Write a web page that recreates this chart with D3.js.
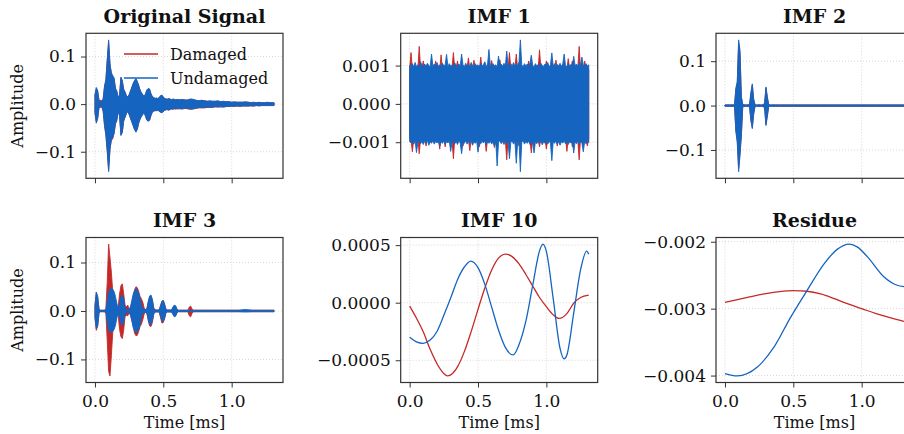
<!DOCTYPE html>
<html>
<head>
<meta charset="utf-8">
<script src="https://cdn.jsdelivr.net/npm/d3@7"></script>
<style>
  body { margin: 0; background: #fff; }
  svg { display: block; }
</style>
</head>
<body>
<svg id="fig" width="904" height="434"></svg>
<script>
const DAMAGED_COLOR = "#c62828";
const UNDAMAGED_COLOR = "#1565c0";
const FONT = "'DejaVu Serif', serif";

const seriesNames = ["Damaged", "Undamaged"];
const timeTicks = [0.0, 0.5, 1.0];
const timeTickLabels = ["0.0", "0.5", "1.0"];

// ---- Original signal, envelope of the dense trace (x 1e-3) ----
const origT = [...d3.range(0, 0.605, 0.01), ...d3.range(0.62, 1.305, 0.02), 1.31];
const origUndHi = [20,35,28,6,4,5,12,38,52,95, 135,85,64,60,55,32,28,14,20,57,
  50,30,26,18,15,20,28,36,44,50, 54,48,38,30,24,20,16,22,30,33,
  32,22,16,14,12,13,12,14,18,19, 15,12,10,11,12,10,9,11,10,9, 10,
  9,10,8,9,11,10,8,7,8,7, 6,7,6,6,7,5,6,5,5,4, 5,4,4,4,5,4,3,4,3,4, 3,3,4,3,3,3];
const origUndLo = [-18,-40,-30,-6,-5,-5,-15,-45,-66,-100, -142,-95,-74,-70,-62,-40,-35,-15,-25,-66,
  -60,-35,-28,-20,-16,-22,-30,-38,-46,-54, -59,-52,-40,-32,-26,-22,-18,-26,-34,-36,
  -33,-24,-17,-15,-13,-14,-13,-15,-17,-18, -16,-13,-11,-12,-12,-11,-10,-10,-9,-10, -9,
  -9,-10,-8,-9,-10,-10,-8,-7,-7,-7, -6,-7,-6,-5,-6,-5,-6,-5,-5,-4, -4,-4,-4,-4,-4,-4,-3,-4,-3,-3, -3,-3,-3,-3,-3,-3];
const origDamHi = [18,33,26,8,8,7,10,36,50,92, 130,82,66,58,52,34,26,12,18,55,
  48,32,24,17,14,19,27,35,43,48, 52,46,40,29,23,19,15,21,29,32,
  30,21,15,13,12,12,11,13,17,18, 14,12,11,10,11,11,9,10,10,9, 9,
  9,9,9,8,10,9,8,7,8,7, 6,6,6,6,6,5,5,5,5,4, 4,4,4,4,4,4,3,3,3,3, 3,3,3,3,3,3];
const origDamLo = [-17,-38,-29,-7,-7,-6,-14,-44,-64,-98, -138,-93,-76,-73,-60,-42,-33,-14,-24,-64,
  -58,-36,-27,-19,-15,-21,-29,-37,-45,-53, -57,-53,-39,-31,-25,-21,-17,-25,-33,-35,
  -34,-23,-16,-14,-14,-13,-13,-14,-17,-17, -15,-13,-12,-11,-13,-11,-10,-11,-10,-10, -10,
  -10,-10,-9,-10,-11,-10,-9,-8,-8,-8, -7,-7,-7,-6,-6,-6,-6,-5,-5,-5, -5,-4,-5,-4,-4,-4,-4,-4,-3,-4, -3,-3,-3,-3,-3,-3];

// ---- IMF 1, envelope every 0.01 ms (x 1e-3) ----
const imf1T = d3.range(132).map((i) => i / 100);
const imf1UndHi = [1.00,0.98,1.05,0.96,1.08,0.97,1.02,0.95,1.10,1.00, 0.96,1.04,0.98,1.06,1.00,0.97,1.30,0.99,1.04,0.96,
  1.08,0.98,1.02,0.95,1.06,0.99,1.03,1.29,0.97,1.05, 0.98,1.02,0.96,1.07,1.00,0.97,1.04,0.99,1.30,1.02,
  0.97,1.06,0.98,1.03,0.96,1.08,1.00,0.97,1.05,0.99, 1.02,0.96,1.06,0.98,1.03,1.10,0.97,1.04,1.42,1.00,
  0.97,1.05,0.99,1.02,0.96,1.25,1.00,1.04,0.98,1.06, 0.99,1.38,1.01,0.97,1.05,0.99,1.08,0.98,1.03,1.00,
  1.10,1.67,1.02,0.97,1.05,0.99,1.04,0.96,1.07,1.27, 1.00,0.97,1.05,0.99,1.03,0.97,1.06,1.00,0.98,1.04,
  0.99,1.08,0.97,1.02,1.33,0.99,1.05,0.97,1.03,0.99, 1.06,0.98,1.04,1.30,1.00,0.97,1.05,0.99,1.03,0.97,
  1.24,1.00,1.04,0.98,1.06,0.99,1.22,1.01,0.97,1.05, 0.99,1.02];
const imf1UndLo = [-0.98,-1.02,-0.96,-1.05,-0.97,-1.27,-1.00,-0.96,-1.04,-0.98, -1.06,-0.97,-1.02,-0.95,-1.08,-0.99,-1.03,-0.96,-1.05,-0.98,
  -1.02,-0.97,-1.10,-0.99,-1.03,-0.96,-1.05,-0.98,-1.02,-0.97, -1.24,-1.00,-0.96,-1.04,-0.98,-1.06,-0.97,-1.02,-1.30,-0.99,
  -1.03,-0.96,-1.05,-0.98,-1.02,-0.97,-1.08,-0.99,-1.03,-0.96, -1.26,-0.98,-1.04,-0.97,-1.02,-0.96,-1.06,-0.99,-1.03,-0.97,
  -1.05,-0.98,-1.10,-0.99,-1.62,-1.00,-0.96,-1.04,-0.98,-1.06, -0.97,-1.02,-0.99,-1.43,-1.00,-0.97,-1.05,-0.98,-1.55,-1.01,
  -0.97,-1.77,-1.00,-0.96,-1.05,-0.98,-1.03,-0.97,-1.06,-0.99, -1.02,-1.28,-0.98,-1.04,-0.97,-1.02,-0.96,-1.07,-0.99,-1.03,
  -0.97,-1.05,-0.98,-1.02,-1.48,-0.99,-1.03,-0.96,-1.05,-0.98, -1.08,-0.99,-1.02,-0.97,-1.04,-0.98,-1.06,-0.99,-1.02,-0.97,
  -1.28,-0.99,-1.04,-0.97,-1.05,-0.98,-1.02,-1.25,-0.99,-1.04, -0.97,-1.01];
const imf1DamHi = [0.92,1.34,0.90,0.95,0.88,0.93,0.90,1.50,0.91,0.94, 1.12,0.89,0.93,0.90,0.95,0.88,0.92,0.94,0.89,1.12,
  0.91,0.95,0.88,1.28,0.90,0.93,0.89,0.92,0.95,0.90, 0.88,0.93,1.34,0.91,0.94,1.12,0.90,0.92,0.89,0.95,
  0.91,0.88,0.93,1.20,0.90,0.94,0.89,1.14,0.92,0.95, 0.90,0.88,1.22,0.91,0.94,0.89,0.92,0.95,0.90,0.93,
  1.13,0.91,0.94,0.89,0.92,0.95,1.15,0.90,0.93,0.88, 0.92,0.95,0.90,1.34,0.91,0.94,0.89,0.92,1.30,0.90,
  0.93,0.88,0.92,0.95,0.90,0.93,0.89,1.12,0.91,0.94, 0.90,0.92,0.88,0.95,0.91,1.41,0.90,0.93,0.89,0.92,
  1.12,0.90,0.94,0.88,0.92,0.95,0.90,1.14,0.91,0.93, 0.89,0.92,0.95,0.90,0.93,0.88,1.18,0.91,0.94,1.12,
  0.90,0.93,0.89,0.92,1.50,0.90,0.94,0.88,1.12,0.91, 0.93,0.90];
const imf1DamLo = [-0.90,-0.94,-1.25,-0.89,-0.92,-0.95,-0.90,-1.30,-0.91,-0.88, -0.93,-0.90,-1.10,-0.89,-0.92,-0.95,-0.90,-0.93,-0.88,-0.92,
  -0.94,-0.90,-1.18,-0.89,-0.93,-0.91,-1.12,-0.90,-0.94,-0.88, -0.92,-0.95,-1.43,-0.90,-0.93,-0.89,-0.92,-0.95,-0.90,-1.10,
  -0.91,-0.94,-0.88,-0.92,-1.22,-0.90,-0.93,-0.89,-0.95,-0.91, -0.88,-1.12,-0.92,-0.90,-0.94,-0.89,-1.24,-0.91,-0.93,-0.90,
  -0.88,-0.92,-1.14,-0.90,-0.93,-0.89,-0.95,-0.91,-0.88,-0.92, -0.94,-1.46,-0.90,-0.93,-0.89,-0.92,-0.95,-0.90,-0.91,-0.94,
  -1.10,-0.89,-0.92,-0.95,-0.90,-0.93,-0.88,-0.92,-0.94,-1.28, -0.90,-0.93,-0.89,-0.92,-0.95,-1.12,-0.90,-0.93,-0.88,-0.92,
  -1.18,-0.90,-0.94,-0.89,-0.92,-0.95,-0.90,-0.93,-1.10,-0.89, -0.92,-0.94,-0.90,-0.93,-0.88,-1.24,-0.91,-0.94,-0.89,-1.12,
  -0.92,-0.90,-0.93,-0.95,-1.46,-0.90,-0.93,-0.89,-0.92,-0.94, -1.10,-0.91];

// ---- IMF 2 (x 1e-3) ----
const imf2T = [...d3.range(0, 0.405, 0.01), ...d3.range(0.45, 1.305, 0.05), 1.31];
const imf2UndHi = [1.5,1.5,2,1.5,1.5,2,1.5,2,40,54, 148,125,20,3,2,1.5,1.5,2,3,30,
  49,15,2,1.5,1.5,2,1.5,1.5,2,6, 42,20,2,1.5,1.5,1.5,2,1.5,1.5,1.5, 1.5,
  1.5,1.5,1.5,1.5,1.5,1.5,1.5,1.5,1.5,1.5, 1.5,1.5,1.5,1.5,1.5,1.5,1.5,1.5,1.5];
const imf2UndLo = [-1.5,-1.5,-2,-1.5,-1.5,-2,-1.5,-2,-60,-83, -149,-113,-69,-3,-2,-1.5,-1.5,-2,-3,-35,
  -52,-20,-2,-1.5,-1.5,-2,-1.5,-1.5,-2,-6, -45,-25,-2,-1.5,-1.5,-1.5,-2,-1.5,-1.5,-1.5, -1.5,
  -1.5,-1.5,-1.5,-1.5,-1.5,-1.5,-1.5,-1.5,-1.5,-1.5, -1.5,-1.5,-1.5,-1.5,-1.5,-1.5,-1.5,-1.5,-1.5];
const imf2DamHi = [1.5,1.5,1.5,1.5,1.5,1.5,1.5,1.5,36,50, 140,118,18,2,1.5,1.5,1.5,1.5,2,27,
  46,13,1.5,1.5,1.5,1.5,1.5,1.5,1.5,5, 39,18,1.5,1.5,1.5,1.5,1.5,1.5,1.5,1.5, 1.5,
  1.5,1.5,1.5,1.5,1.5,1.5,1.5,1.5,1.5,1.5, 1.5,1.5,1.5,1.5,1.5,1.5,1.5,1.5,1.5];
const imf2DamLo = [-1.5,-1.5,-1.5,-1.5,-1.5,-1.5,-1.5,-1.5,-55,-78, -141,-106,-64,-2,-1.5,-1.5,-1.5,-1.5,-2,-32,
  -49,-18,-1.5,-1.5,-1.5,-1.5,-1.5,-1.5,-1.5,-5, -42,-22,-1.5,-1.5,-1.5,-1.5,-1.5,-1.5,-1.5,-1.5, -1.5,
  -1.5,-1.5,-1.5,-1.5,-1.5,-1.5,-1.5,-1.5,-1.5,-1.5, -1.5,-1.5,-1.5,-1.5,-1.5,-1.5,-1.5,-1.5,-1.5];

// ---- IMF 3 (x 1e-3) ----
const imf3T = [...d3.range(0, 0.755, 0.01), ...d3.range(0.8, 1.305, 0.05), 1.31];
const imf3UndHi = [10,39,30,3,1.5,1.5,1.5,1.5,3,20, 38,45,47,45,40,30,16,4,15,30,
  33,25,8,3,3,3,8,22,35,42, 46,44,36,26,12,5,3,3,5,20, 31,33,24,6,2,2,2,2,10,20,
  22,14,3,2,2,2,2,8,12,11, 4,1.5,1.5,1.5,1.5,1.5,1.5,1.5,1.5,1.5, 1.5,1.5,1.5,1.5,1.5,1.5,
  1.5,1.5,1.5,1.5,1.5,1.5,3,1.5,1.5,1.5,1.5,1.5];
const imf3UndLo = [-12,-37,-30,-3,-1.5,-1.5,-1.5,-1.5,-3,-22, -40,-43,-44,-42,-38,-30,-15,-4,-12,-27,
  -29,-22,-8,-3,-3,-3,-8,-20,-34,-41, -45,-43,-38,-28,-12,-5,-3,-3,-5,-18, -28,-28,-20,-6,-2,-2,-2,-2,-10,-20,
  -22,-15,-3,-2,-2,-2,-2,-7,-12,-11, -4,-1.5,-1.5,-1.5,-1.5,-1.5,-1.5,-1.5,-1.5,-1.5, -1.5,-1.5,-1.5,-1.5,-1.5,-1.5,
  -1.5,-1.5,-1.5,-1.5,-1.5,-1.5,-2,-1.5,-1.5,-1.5,-1.5,-1.5];
const imf3DamHi = [12,38,28,3,1.5,1.5,1.5,1.5,5,60, 138,110,80,40,25,15,6,8,35,52,
  56,36,12,8,12,4,8,18,30,44, 50,48,40,30,25,18,6,3,4,18, 28,30,22,6,2,2,2,2,12,20,
  21,12,3,2,2,2,2,6,10,9, 3,1.5,1.5,1.5,1.5,1.5,1.5,1.5,1.5,8, 10,4,1.5,1.5,1.5,1.5,
  1.5,1.5,1.5,1.5,1.5,1.5,1.5,1.5,1.5,1.5,1.5,1.5];
const imf3DamLo = [-14,-40,-31,-3,-1.5,-1.5,-1.5,-1.5,-5,-62, -125,-134,-92,-45,-28,-15,-6,-8,-38,-53,
  -57,-40,-12,-9,-10,-4,-8,-20,-32,-46, -51,-50,-42,-32,-27,-18,-6,-3,-4,-20, -31,-32,-24,-6,-2,-2,-2,-2,-14,-25,
  -24,-14,-3,-2,-2,-2,-2,-6,-10,-9, -3,-1.5,-1.5,-1.5,-1.5,-1.5,-1.5,-1.5,-1.5,-10, -12,-5,-1.5,-1.5,-1.5,-1.5,
  -1.5,-1.5,-1.5,-1.5,-1.5,-1.5,-1.5,-1.5,-1.5,-1.5,-1.5,-1.5];

// ---- IMF 10 (x 1e-4) ----
const imf10UndT = [0, 0.05, 0.098, 0.15, 0.20, 0.25, 0.30, 0.35, 0.40, 0.447, 0.50, 0.55, 0.60, 0.65, 0.70,
  0.757, 0.80, 0.85, 0.90, 0.95, 0.975, 1.00, 1.05, 1.10, 1.13, 1.15, 1.20, 1.25, 1.295, 1.31];
const imf10Und = [-3.0, -3.4, -3.53, -3.25, -2.5, -1.1, 0.4, 2.0, 3.1, 3.61, 3.04, 1.59, -0.39, -2.37, -3.88,
  -4.54, -3.64, -1.6, 1.5, 4.5, 5.09, 4.46, 0.35, -3.97, -4.88, -4.54, -0.9, 2.85, 4.48, 4.2];
const imf10DamT = [0, 0.05, 0.10, 0.15, 0.20, 0.25, 0.275, 0.30, 0.35, 0.40, 0.45, 0.50, 0.55, 0.60, 0.65,
  0.70, 0.75, 0.80, 0.85, 0.90, 0.95, 1.00, 1.05, 1.093, 1.15, 1.20, 1.25, 1.31];
const imf10Dam = [-0.29, -1.35, -2.55, -4.05, -5.3, -6.15, -6.36, -6.27, -5.57, -4.25, -2.51, -0.58, 1.28, 2.84, 3.87,
  4.22, 4.0, 3.37, 2.45, 1.45, 0.45, -0.35, -1.05, -1.36, -0.95, -0.05, 0.45, 0.66];

// ---- Residue (x 1e-3) ----
const resUndT = [0, 0.09, 0.235, 0.357, 0.48, 0.6, 0.725, 0.823, 0.909, 0.97, 1.044, 1.166, 1.26, 1.31];
const resUnd = [-3.97, -4.005, -3.876, -3.58, -3.13, -2.73, -2.33, -2.11, -2.035, -2.08, -2.23, -2.53, -2.65, -2.67];
const resDamT = [0, 0.1, 0.2, 0.3, 0.4, 0.5, 0.6, 0.7, 0.8, 0.9, 1.0, 1.1, 1.2, 1.31];
const resDam = [-2.905, -2.86, -2.815, -2.775, -2.745, -2.73, -2.74, -2.78, -2.85, -2.93, -3.0, -3.07, -3.13, -3.19];

const ampTicks = [-0.1, 0, 0.1];
const ampTickLabels = ["\u22120.1", "0.0", "0.1"];
const imf1Ticks = [-0.001, 0, 0.001];
const imf1TickLabels = ["\u22120.001", "0.000", "0.001"];
const imf10Ticks = [-0.0005, 0, 0.0005];
const imf10TickLabels = ["\u22120.0005", "0.0000", "0.0005"];
const resTicks = [-0.004, -0.003, -0.002];
const resTickLabels = ["\u22120.004", "\u22120.003", "\u22120.002"];

// layout
const COL_X = [86, 400.7, 716];
const ROW_Y = [33.3, 237.5];
const PW = 197, PH = 145;

const svg = d3.select("#fig");
svg.append("rect").attr("width", 904).attr("height", 434).attr("fill", "#fff");

function band(t, hi, lo, unit, color) {
  return { kind: "band", t, hi: hi.map((v) => v * unit), lo: lo.map((v) => v * unit), color };
}
function curve(t, y, unit, color) {
  return { kind: "line", t, y: y.map((v) => v * unit), color };
}

function padded(ext) {
  const m = (ext[1] - ext[0]) * 0.05;
  return [ext[0] - m, ext[1] + m];
}

function drawPanel(p, idx) {
  const left = COL_X[p.col], top = ROW_Y[p.row];
  const g = svg.append("g").attr("transform", `translate(${left},${top})`);

  const allT = p.series.flatMap((s) => s.t);
  const allY = p.series.flatMap((s) => (s.kind === "band" ? [...s.hi, ...s.lo] : s.y));
  const x = d3.scaleLinear().domain(padded(d3.extent(allT))).range([0, PW]);
  const y = d3.scaleLinear().domain(padded(d3.extent(allY))).range([PH, 0]);

  // grid
  const grid = g.append("g").attr("stroke", "#cccccc").attr("stroke-width", 0.8).attr("stroke-dasharray", "1,2");
  timeTicks.forEach((t) => grid.append("line").attr("x1", x(t)).attr("x2", x(t)).attr("y1", 0).attr("y2", PH));
  p.yTicks.forEach((v) => grid.append("line").attr("x1", 0).attr("x2", PW).attr("y1", y(v)).attr("y2", y(v)));

  const clipId = "clip" + idx;
  g.append("clipPath").attr("id", clipId).append("rect").attr("width", PW).attr("height", PH);
  const plot = g.append("g").attr("clip-path", `url(#${clipId})`);

  p.series.forEach((s) => {
    const n = Math.min(s.t.length, s.kind === "band" ? s.hi.length : s.y.length);
    const idxs = d3.range(n);
    if (s.kind === "band") {
      const area = d3.area().x((i) => x(s.t[i])).y0((i) => y(s.lo[i])).y1((i) => y(s.hi[i]));
      plot.append("path").attr("d", area(idxs))
        .attr("fill", s.color).attr("stroke", s.color)
        .attr("stroke-width", 0.9).attr("stroke-linejoin", "round");
    } else {
      const line = d3.line().curve(d3.curveMonotoneX).x((i) => x(s.t[i])).y((i) => y(s.y[i]));
      plot.append("path").attr("d", line(idxs))
        .attr("fill", "none").attr("stroke", s.color).attr("stroke-width", 1.3);
    }
  });

  // axes
  const xAxis = d3.axisBottom(x).tickValues(timeTicks).tickSize(5).tickPadding(7)
    .tickFormat((d, i) => (p.row === 1 ? timeTickLabels[i] : ""));
  const yAxis = d3.axisLeft(y).tickValues(p.yTicks).tickSize(5).tickPadding(5)
    .tickFormat((d, i) => p.yLabels[i]);
  [g.append("g").attr("transform", `translate(0,${PH})`).call(xAxis),
   g.append("g").call(yAxis)].forEach((a) => {
    a.attr("font-family", FONT).attr("font-size", 17);
    a.select(".domain").remove();
    a.selectAll(".tick line").attr("stroke", "#333").attr("stroke-width", 1);
    a.selectAll(".tick text").attr("fill", "#111");
  });

  // frame
  g.append("rect").attr("width", PW).attr("height", PH)
    .attr("fill", "none").attr("stroke", "#333").attr("stroke-width", 1.2);

  g.append("text").attr("x", PW / 2).attr("y", -10.5).attr("text-anchor", "middle")
    .attr("font-family", FONT).attr("font-weight", "bold").attr("font-size", 19).attr("fill", "#111")
    .text(p.title);

  if (p.col === 0) {
    svg.append("text").attr("transform", `translate(22.5,${top + PH / 2}) rotate(-90)`)
      .attr("text-anchor", "middle").attr("font-family", FONT).attr("font-size", 16).attr("fill", "#111")
      .text("Amplitude");
  }
  if (p.row === 1) {
    g.append("text").attr("x", PW / 2).attr("y", 190.5).attr("text-anchor", "middle")
      .attr("font-family", FONT).attr("font-size", 16).attr("fill", "#111")
      .text("Time [ms]");
  }

  if (p.legend) {
    const colors = [DAMAGED_COLOR, UNDAMAGED_COLOR];
    seriesNames.forEach((name, i) => {
      const ly = 20.7 + i * 24;
      g.append("line").attr("x1", 38).attr("x2", 72).attr("y1", ly).attr("y2", ly)
        .attr("stroke", colors[i]).attr("stroke-width", 1.5);
      g.append("text").attr("x", 84).attr("y", ly).attr("dy", "0.35em")
        .attr("font-family", FONT).attr("font-size", 16).attr("fill", "#111").text(name);
    });
  }
}

const panels = [
  { title: "Original Signal", row: 0, col: 0, yTicks: ampTicks, yLabels: ampTickLabels, legend: true,
    series: [band(origT, origDamHi, origDamLo, 1e-3, DAMAGED_COLOR), band(origT, origUndHi, origUndLo, 1e-3, UNDAMAGED_COLOR)] },
  { title: "IMF 1", row: 0, col: 1, yTicks: imf1Ticks, yLabels: imf1TickLabels,
    series: [band(imf1T, imf1DamHi, imf1DamLo, 1e-3, DAMAGED_COLOR), band(imf1T, imf1UndHi, imf1UndLo, 1e-3, UNDAMAGED_COLOR)] },
  { title: "IMF 2", row: 0, col: 2, yTicks: ampTicks, yLabels: ampTickLabels,
    series: [band(imf2T, imf2DamHi, imf2DamLo, 1e-3, DAMAGED_COLOR), band(imf2T, imf2UndHi, imf2UndLo, 1e-3, UNDAMAGED_COLOR)] },
  { title: "IMF 3", row: 1, col: 0, yTicks: ampTicks, yLabels: ampTickLabels,
    series: [band(imf3T, imf3DamHi, imf3DamLo, 1e-3, DAMAGED_COLOR), band(imf3T, imf3UndHi, imf3UndLo, 1e-3, UNDAMAGED_COLOR)] },
  { title: "IMF 10", row: 1, col: 1, yTicks: imf10Ticks, yLabels: imf10TickLabels,
    series: [curve(imf10DamT, imf10Dam, 1e-4, DAMAGED_COLOR), curve(imf10UndT, imf10Und, 1e-4, UNDAMAGED_COLOR)] },
  { title: "Residue", row: 1, col: 2, yTicks: resTicks, yLabels: resTickLabels,
    series: [curve(resDamT, resDam, 1e-3, DAMAGED_COLOR), curve(resUndT, resUnd, 1e-3, UNDAMAGED_COLOR)] },
];

panels.forEach(drawPanel);
</script>
</body>
</html>
